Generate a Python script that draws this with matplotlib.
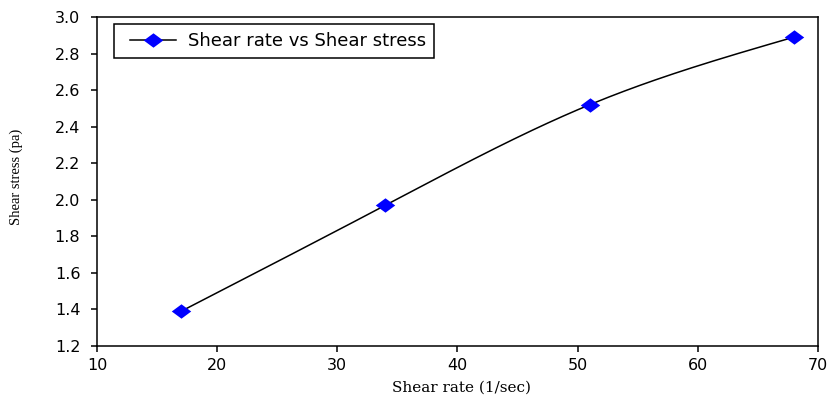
import numpy as np
import matplotlib
matplotlib.use("Agg")
import matplotlib.pyplot as plt
from matplotlib.lines import Line2D
from matplotlib.legend_handler import HandlerLine2D

shear_rate = [17, 34, 51, 68]
shear_stress = [1.39, 1.97, 2.52, 2.89]
xticks = [10, 20, 30, 40, 50, 60, 70]
yticks = [1.2, 1.4, 1.6, 1.8, 2.0, 2.2, 2.4, 2.6, 2.8, 3.0]


def natural_spline(x, y, n=200):
    x = np.asarray(x, float)
    y = np.asarray(y, float)
    m = len(x)
    h = np.diff(x)
    A = np.zeros((m, m))
    b = np.zeros(m)
    A[0, 0] = A[-1, -1] = 1
    for i in range(1, m - 1):
        A[i, i - 1] = h[i - 1]
        A[i, i] = 2 * (h[i - 1] + h[i])
        A[i, i + 1] = h[i]
        b[i] = 3 * ((y[i + 1] - y[i]) / h[i] - (y[i] - y[i - 1]) / h[i - 1])
    c = np.linalg.solve(A, b)
    xs = np.linspace(x[0], x[-1], n)
    ys = np.empty_like(xs)
    for k, xv in enumerate(xs):
        i = min(np.searchsorted(x, xv, side="right") - 1, m - 2)
        dx = xv - x[i]
        bi = (y[i + 1] - y[i]) / h[i] - h[i] * (2 * c[i] + c[i + 1]) / 3
        di = (c[i + 1] - c[i]) / (3 * h[i])
        ys[k] = y[i] + bi * dx + c[i] * dx ** 2 + di * dx ** 3
    return xs, ys


fig = plt.figure(figsize=(8.31, 4.0), dpi=100)
ax = fig.add_axes([97 / 831, 54 / 400, 721 / 831, 329 / 400])

xs, ys = natural_spline(shear_rate, shear_stress)
ax.plot(xs, ys, color="black", lw=1.1, zorder=2)

diamond = [(-1, 0), (0, 0.74), (1, 0), (0, -0.74), (-1, 0)]
ax.plot(shear_rate, shear_stress, linestyle="none", marker=diamond,
        markersize=14, color="#0000ff", markeredgewidth=0, zorder=3)

handle = Line2D([], [], color="black", lw=1.1, marker=diamond, markersize=14,
                markerfacecolor="#0000ff", markeredgewidth=0)
fs_leg = 13
leg = ax.legend([handle], ["Shear rate vs Shear stress"], loc="upper left",
                bbox_to_anchor=(17 / 721, (329 - 7) / 329), borderaxespad=0,
                fancybox=False, framealpha=1, edgecolor="black",
                handlelength=3.0, handletextpad=0.65, borderpad=0.45,
                handler_map={handle: HandlerLine2D(numpoints=1, xpad=0.44)},
                prop={"family": "DejaVu Sans", "size": fs_leg})
leg.get_frame().set_linewidth(1.1)

ax.set_xlim(10, 70)
ax.set_ylim(1.2, 3.0)
ax.set_xticks(xticks)
ax.set_yticks(yticks)
ax.set_xticklabels([str(v) for v in xticks], family="DejaVu Sans", fontsize=11.5)
ax.set_yticklabels([f"{v:.1f}" for v in yticks], family="DejaVu Sans", fontsize=11.5)
ax.tick_params(direction="out", length=4.5, width=1.1, colors="black")
ax.tick_params(axis="y", pad=7.5)
ax.tick_params(axis="x", pad=4)
for s in ax.spines.values():
    s.set_linewidth(1.1)

ax.set_xlabel("Shear rate (1/sec)", family="DejaVu Serif", fontsize=11)
ax.xaxis.set_label_coords(0.505, -0.105)
ax.set_ylabel("Shear stress (pa)", family="Liberation Serif", fontsize=10.5)
ax.yaxis.set_label_coords(-0.103, 0.515)

fig.savefig("out.png", dpi=100)
